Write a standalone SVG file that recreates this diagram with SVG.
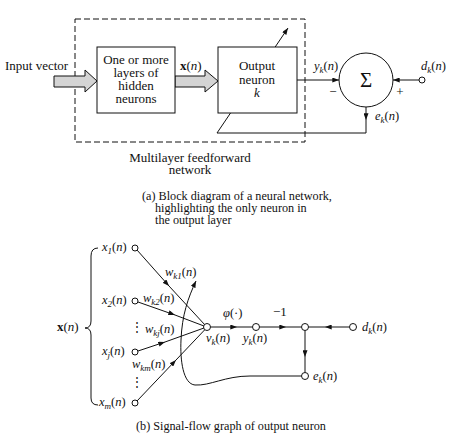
<svg xmlns="http://www.w3.org/2000/svg" width="456" height="440" viewBox="0 0 456 440">
<style>
text{font-family:"Liberation Serif","Times New Roman",serif;fill:#111;font-size:13px}
.cap{font-size:12.2px}
.m{font-style:italic;font-size:12.5px}
.sub{font-size:9px}
.sig{font-size:21px}
.dots{font-size:12px}
.ln{fill:none;stroke:#111;stroke-width:1}
.node{fill:#fff;stroke:#111;stroke-width:1}
.blk{fill:#fff;stroke:#111;stroke-width:1}
.barrow{fill:#d4d4d4;stroke:#111;stroke-width:1}
</style>
<defs>
<marker id="arr" viewBox="0 0 8 6" refX="8" refY="3" markerWidth="7" markerHeight="5" markerUnits="userSpaceOnUse" orient="auto">
<path d="M0,0 L8,3 L0,6 z" fill="#111"/>
</marker>
</defs>

<!-- dashed frame -->
<rect id="frame" x="75" y="19" width="230" height="123" fill="none" stroke="#111" stroke-dasharray="6 3"/>

<g id="connectors">
<!-- top -->
<path class="barrow" d="M54,76 L85,76 L85,70 L97,81 L85,92 L85,87 L54,87 z"/>
<path class="barrow" d="M175,76 L205,76 L205,70 L218,81 L205,92 L205,87 L175,87 z"/>
<path class="ln" d="M297,80 L339,80" marker-end="url(#arr)"/>
<path class="ln" d="M419,80 L393,80" marker-end="url(#arr)"/>
<path class="ln" d="M366,107 L366,120 L366,133" marker-mid="url(#arr)"/>
<path class="ln" d="M366,133 L217,133 L288,28" marker-end="url(#arr)"/>
<!-- bottom -->
<path class="ln" d="M137,250 L169,286 L205,325" marker-mid="url(#arr)"/>
<path class="ln" d="M138,302 L175,315 L204,326" marker-mid="url(#arr)"/>
<path class="ln" d="M138,351 L165,342 L204,328" marker-mid="url(#arr)"/>
<path class="ln" d="M137,401 L176,360 L205,329.5" marker-mid="url(#arr)"/>
<path class="ln" d="M210.5,327 L237,327 L252.5,327" marker-mid="url(#arr)"/>
<path class="ln" d="M259.5,327 L286,327 L301.5,327" marker-mid="url(#arr)"/>
<path class="ln" d="M349.5,327 L325,327 L308.5,327" marker-mid="url(#arr)"/>
<path class="ln" d="M305,330.5 L305,357 L305,372.5" marker-mid="url(#arr)"/>
<path class="ln" d="M301.5,376 L250,376 C225,376 210,386 195,385 C183,384 180,360 181,340 C182,315 188,298 196,281" marker-end="url(#arr)"/>
<path id="brace" class="ln" d="M98,248 Q91,248 91,256 L91,321 Q91,328 85,328 Q91,328 91,335 L91,398 Q91,405 98,405"/>
</g>

<g id="hidden">
<rect class="blk" x="97" y="47" width="78" height="66"/>
<text x="136" y="64" text-anchor="middle">One or more</text>
<text x="136" y="77" text-anchor="middle">layers of</text>
<text x="136" y="90" text-anchor="middle">hidden</text>
<text x="136" y="103" text-anchor="middle">neurons</text>
</g>
<g id="output">
<rect class="blk" x="218" y="47" width="79" height="66"/>
<text x="257" y="70" text-anchor="middle">Output</text>
<text x="257" y="84" text-anchor="middle">neuron</text>
<text x="257" y="97" text-anchor="middle" font-style="italic">k</text>
</g>
<g id="sum">
<circle class="blk" cx="366" cy="80" r="27"/>
<text x="366" y="87" text-anchor="middle" class="sig">Σ</text>
<text x="333" y="96" text-anchor="middle">−</text>
<text x="400" y="96" text-anchor="middle">+</text>
</g>
<g id="dk-top"><circle class="node" cx="422" cy="80" r="3"/></g>

<g id="labels-top">
<text x="5" y="70">Input vector</text>
<text x="180" y="70"><tspan font-weight="bold">x</tspan>(<tspan font-style="italic">n</tspan>)</text>
<text x="314" y="70" class="m">y<tspan class="sub" dy="3">k</tspan><tspan dy="-3" font-style="normal">(</tspan>n<tspan font-style="normal">)</tspan></text>
<text x="421" y="70" class="m">d<tspan class="sub" dy="3">k</tspan><tspan dy="-3" font-style="normal">(</tspan>n<tspan font-style="normal">)</tspan></text>
<text x="375" y="120" class="m">e<tspan class="sub" dy="3">k</tspan><tspan dy="-3" font-style="normal">(</tspan>n<tspan font-style="normal">)</tspan></text>
<text x="190" y="162" text-anchor="middle">Multilayer feedforward</text>
<text x="190" y="174" text-anchor="middle">network</text>
<text x="142" y="200" class="cap">(a) Block diagram of a neural network,</text>
<text x="155" y="212" class="cap">highlighting the only neuron in</text>
<text x="155" y="224" class="cap">the output layer</text>
</g>

<g id="x1"><circle class="node" cx="135" cy="248" r="3"/><text x="102" y="251" class="m">x<tspan class="sub" dy="3">1</tspan><tspan dy="-3" font-style="normal">(</tspan>n<tspan font-style="normal">)</tspan></text></g>
<g id="x2"><circle class="node" cx="135" cy="301" r="3"/><text x="102" y="304" class="m">x<tspan class="sub" dy="3">2</tspan><tspan dy="-3" font-style="normal">(</tspan>n<tspan font-style="normal">)</tspan></text></g>
<g id="xj"><circle class="node" cx="135" cy="352" r="3"/><text x="102" y="355" class="m">x<tspan class="sub" dy="3">j</tspan><tspan dy="-3" font-style="normal">(</tspan>n<tspan font-style="normal">)</tspan></text></g>
<g id="xm"><circle class="node" cx="135" cy="403" r="3"/><text x="99" y="406" class="m">x<tspan class="sub" dy="3">m</tspan><tspan dy="-3" font-style="normal">(</tspan>n<tspan font-style="normal">)</tspan></text></g>
<g id="vk"><circle class="node" cx="207" cy="327" r="3.5"/><text x="206" y="342" class="m">v<tspan class="sub" dy="3">k</tspan><tspan dy="-3" font-style="normal">(</tspan>n<tspan font-style="normal">)</tspan></text></g>
<g id="yk"><circle class="node" cx="256" cy="327" r="3.5"/><text x="243" y="342" class="m">y<tspan class="sub" dy="3">k</tspan><tspan dy="-3" font-style="normal">(</tspan>n<tspan font-style="normal">)</tspan></text></g>
<g id="junction"><circle class="node" cx="305" cy="327" r="3.5"/></g>
<g id="dk"><circle class="node" cx="353" cy="327" r="3.5"/><text x="362" y="331" class="m">d<tspan class="sub" dy="3">k</tspan><tspan dy="-3" font-style="normal">(</tspan>n<tspan font-style="normal">)</tspan></text></g>
<g id="ek"><circle class="node" cx="305" cy="376" r="3.5"/><text x="313" y="380" class="m">e<tspan class="sub" dy="3">k</tspan><tspan dy="-3" font-style="normal">(</tspan>n<tspan font-style="normal">)</tspan></text></g>

<g id="labels-bottom">
<text x="57" y="331"><tspan font-weight="bold">x</tspan>(<tspan font-style="italic">n</tspan>)</text>
<text x="137" y="331" text-anchor="middle" class="dots">⋮</text>
<text x="137" y="386" text-anchor="middle" class="dots">⋮</text>
<text x="165" y="276" class="m">w<tspan class="sub" dy="3">k1</tspan><tspan dy="-3" font-style="normal">(</tspan>n<tspan font-style="normal">)</tspan></text>
<text x="143" y="302" class="m">w<tspan class="sub" dy="3">k2</tspan><tspan dy="-3" font-style="normal">(</tspan>n<tspan font-style="normal">)</tspan></text>
<text x="145" y="333" class="m">w<tspan class="sub" dy="3">kj</tspan><tspan dy="-3" font-style="normal">(</tspan>n<tspan font-style="normal">)</tspan></text>
<text x="132" y="368" class="m">w<tspan class="sub" dy="3">km</tspan><tspan dy="-3" font-style="normal">(</tspan>n<tspan font-style="normal">)</tspan></text>
<text x="223" y="317" class="m">φ<tspan font-style="normal">(·)</tspan></text>
<text x="273" y="316">−1</text>
<text x="136" y="430" class="cap">(b) Signal-flow graph of output neuron</text>
</g>
</svg>
